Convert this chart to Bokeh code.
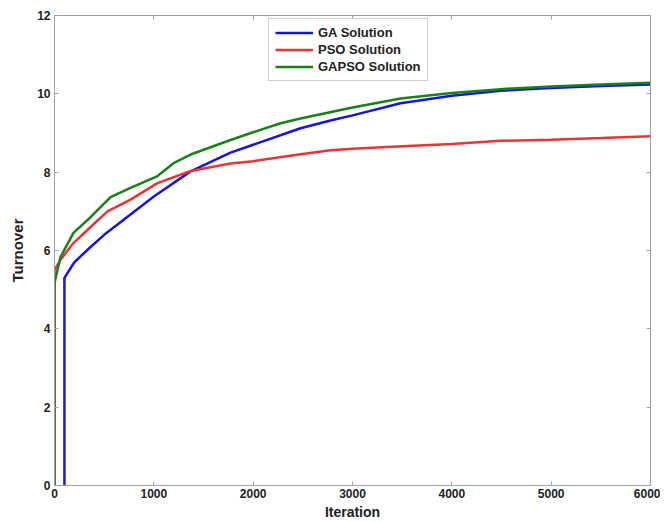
from bokeh.plotting import figure
from bokeh.models import LinearAxis, Range1d, Legend, LegendItem, FixedTicker
from bokeh.embed import file_html
from bokeh.resources import INLINE

# Data
ga_x = [100, 100, 200, 363, 500, 765, 1000, 1370, 1772, 2000, 2477, 2779, 3000, 3484, 4000, 4491, 5000, 5500, 6000]
ga_y = [0, 5.3, 5.7, 6.09, 6.4, 6.92, 7.38, 8.02, 8.5, 8.7, 9.12, 9.32, 9.45, 9.76, 9.95, 10.08, 10.15, 10.2, 10.24]

pso_x = [0, 0, 60, 191, 363, 534, 765, 1037, 1370, 1772, 2000, 2477, 2779, 3000, 3500, 4000, 4491, 5000, 5500, 6000]
pso_y = [0, 5.5, 5.76, 6.19, 6.6, 7.0, 7.3, 7.72, 8.03, 8.22, 8.28, 8.46, 8.56, 8.6, 8.66, 8.72, 8.8, 8.83, 8.87, 8.92]

gapso_x = [0, 0, 60, 191, 363, 564, 765, 1037, 1198, 1370, 1772, 2000, 2276, 2477, 3000, 3484, 4000, 4491, 5000, 5500, 6000]
gapso_y = [0, 5.17, 5.83, 6.45, 6.85, 7.36, 7.6, 7.9, 8.23, 8.45, 8.82, 9.02, 9.25, 9.37, 9.65, 9.88, 10.02, 10.12, 10.19, 10.24, 10.28]

x_ticks = [0, 1000, 2000, 3000, 4000, 5000, 6000]
y_ticks = [0, 2, 4, 6, 8, 10, 12]

FONT = "Liberation Sans"
AX_COLOR = "#a0a0a0"
TXT = "#222222"

p = figure(width=660, height=522, output_backend="svg", toolbar_location=None,
           x_range=Range1d(0, 6000), y_range=Range1d(0, 12),
           x_axis_label="Iteration", y_axis_label="Turnover")
p.min_border_left = 54
p.min_border_right = 10
p.min_border_top = 15
p.min_border_bottom = 36
p.xgrid.visible = False
p.ygrid.visible = False
p.outline_line_color = AX_COLOR


def style_axis(ax):
    ax.axis_line_color = AX_COLOR
    ax.major_tick_line_color = AX_COLOR
    ax.major_tick_in = 4
    ax.major_tick_out = 0
    ax.minor_tick_line_color = None
    ax.major_label_text_font = FONT
    ax.major_label_text_font_style = "bold"
    ax.major_label_text_font_size = "12px"
    ax.major_label_text_color = TXT
    ax.major_label_standoff = 4
    ax.axis_label_text_font = FONT
    ax.axis_label_text_font_style = "bold"
    ax.axis_label_text_color = TXT


p.xaxis.ticker = FixedTicker(ticks=x_ticks)
p.yaxis.ticker = FixedTicker(ticks=y_ticks)
style_axis(p.xaxis[0])
style_axis(p.yaxis[0])
p.xaxis.major_label_standoff = 3
p.xaxis.axis_label_text_font_size = "14px"
p.xaxis.axis_label_standoff = 3
p.yaxis.axis_label_text_font_size = "15px"
p.yaxis.axis_label_standoff = 8

top = LinearAxis(ticker=FixedTicker(ticks=x_ticks))
right = LinearAxis(ticker=FixedTicker(ticks=y_ticks))
for ax in (top, right):
    style_axis(ax)
    ax.major_label_text_font_size = "0px"
    ax.major_label_text_color = None
    ax.major_label_standoff = 0
p.add_layout(top, "above")
p.add_layout(right, "right")

r_ga = p.line(ga_x, ga_y, line_color="#1414e6", line_width=2.5)
r_pso = p.line(pso_x, pso_y, line_color="#ec3333", line_width=2.5)
r_gapso = p.line(gapso_x, gapso_y, line_color="#1a801a", line_width=2.5)

legend = Legend(items=[
    LegendItem(label="GA Solution", renderers=[r_ga]),
    LegendItem(label="PSO Solution", renderers=[r_pso]),
    LegendItem(label="GAPSO Solution", renderers=[r_gapso]),
], location=(214, 404))
legend.label_text_font = FONT
legend.label_text_font_style = "bold"
legend.label_text_font_size = "13px"
legend.label_text_color = TXT
legend.label_height = 15
legend.glyph_height = 15
legend.glyph_width = 38
legend.spacing = 2
legend.padding = 6
legend.margin = 0
legend.border_line_color = AX_COLOR
legend.label_standoff = 5
p.add_layout(legend)

open("out.html", "w").write(file_html(p, INLINE))
